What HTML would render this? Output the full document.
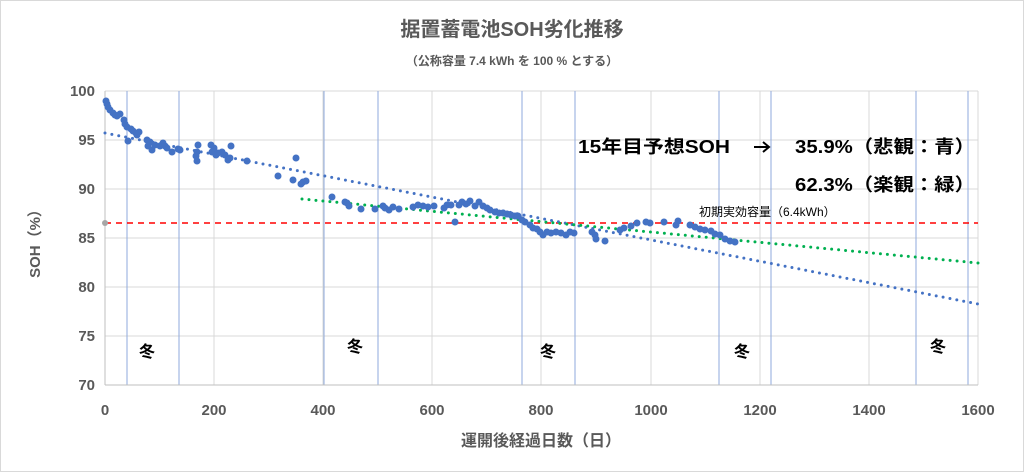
<!DOCTYPE html>
<html><head><meta charset="utf-8"><style>
body{margin:0;background:#fff}
svg{display:block;font-family:"Liberation Sans","Noto Sans CJK JP",sans-serif}
</style></head><body>
<svg width="1024" height="472" viewBox="0 0 1024 472">
<rect x="0.5" y="0.5" width="1023" height="471" fill="#fff" stroke="#d9d9d9"/>
<g stroke="#d9d9d9" stroke-width="1">
<line x1="105" y1="91" x2="978" y2="91"/><line x1="105" y1="140" x2="978" y2="140"/>
<line x1="105" y1="189" x2="978" y2="189"/><line x1="105" y1="238" x2="978" y2="238"/>
<line x1="105" y1="287" x2="978" y2="287"/><line x1="105" y1="336" x2="978" y2="336"/>
<line x1="214" y1="91" x2="214" y2="385"/><line x1="323" y1="91" x2="323" y2="385"/>
<line x1="432" y1="91" x2="432" y2="385"/><line x1="541" y1="91" x2="541" y2="385"/>
<line x1="651" y1="91" x2="651" y2="385"/><line x1="760" y1="91" x2="760" y2="385"/>
<line x1="869" y1="91" x2="869" y2="385"/><line x1="978" y1="91" x2="978" y2="385"/>
</g>
<g stroke="#8faadc" stroke-width="1">
<line x1="127" y1="91" x2="127" y2="385"/><line x1="179" y1="91" x2="179" y2="385"/>
<line x1="324" y1="91" x2="324" y2="385"/><line x1="378" y1="91" x2="378" y2="385"/>
<line x1="522" y1="91" x2="522" y2="385"/><line x1="575" y1="91" x2="575" y2="385"/>
<line x1="719" y1="91" x2="719" y2="385"/><line x1="771" y1="91" x2="771" y2="385"/>
<line x1="916" y1="91" x2="916" y2="385"/><line x1="968" y1="91" x2="968" y2="385"/>
</g>
<line x1="105" y1="91" x2="105" y2="385" stroke="#bfbfbf"/>
<line x1="105" y1="385" x2="978" y2="385" stroke="#bfbfbf"/>
<line x1="105" y1="223" x2="978" y2="223" stroke="#ff0000" stroke-width="1.5" stroke-dasharray="6,5"/>
<circle cx="105" cy="223" r="3" fill="#a6a6a6"/>
<line x1="105" y1="133" x2="978" y2="304" stroke="#4472c4" stroke-width="3" stroke-dasharray="0,7" stroke-linecap="round"/>
<line x1="302" y1="199" x2="978" y2="263" stroke="#00b050" stroke-width="3" stroke-dasharray="0,7" stroke-linecap="round"/>
<g fill="#4472c4">
<circle cx="106" cy="101" r="3.5"/><circle cx="107" cy="104" r="3.5"/><circle cx="108" cy="107" r="3.5"/><circle cx="110" cy="110" r="3.5"/><circle cx="113" cy="113" r="3.5"/><circle cx="115" cy="115" r="3.5"/><circle cx="117" cy="116" r="3.5"/><circle cx="120" cy="114" r="3.5"/><circle cx="124" cy="120" r="3.5"/><circle cx="125" cy="124" r="3.5"/><circle cx="127" cy="127" r="3.5"/><circle cx="131" cy="129" r="3.5"/><circle cx="133" cy="131" r="3.5"/><circle cx="136" cy="133" r="3.5"/><circle cx="139" cy="132" r="3.5"/><circle cx="137" cy="135" r="3.5"/><circle cx="128" cy="141" r="3.5"/><circle cx="147" cy="140" r="3.5"/><circle cx="148" cy="146" r="3.5"/><circle cx="152" cy="150" r="3.5"/><circle cx="150" cy="142" r="3.5"/><circle cx="155" cy="145" r="3.5"/><circle cx="160" cy="146" r="3.5"/><circle cx="163" cy="143" r="3.5"/><circle cx="165" cy="146" r="3.5"/><circle cx="167" cy="148" r="3.5"/><circle cx="172" cy="152" r="3.5"/><circle cx="178" cy="149" r="3.5"/><circle cx="180" cy="150" r="3.5"/><circle cx="197" cy="152" r="3.5"/><circle cx="196" cy="156" r="3.5"/><circle cx="197" cy="161" r="3.5"/><circle cx="198" cy="145" r="3.5"/><circle cx="211" cy="145" r="3.5"/><circle cx="212" cy="152" r="3.5"/><circle cx="214" cy="148" r="3.5"/><circle cx="216" cy="155" r="3.5"/><circle cx="218" cy="153" r="3.5"/><circle cx="222" cy="152" r="3.5"/><circle cx="225" cy="155" r="3.5"/><circle cx="228" cy="160" r="3.5"/><circle cx="231" cy="146" r="3.5"/><circle cx="230" cy="158" r="3.5"/><circle cx="247" cy="161" r="3.5"/><circle cx="278" cy="176" r="3.5"/><circle cx="293" cy="180" r="3.5"/><circle cx="296" cy="158" r="3.5"/><circle cx="301" cy="184" r="3.5"/><circle cx="303" cy="182" r="3.5"/><circle cx="306" cy="181" r="3.5"/><circle cx="332" cy="197" r="3.5"/><circle cx="345" cy="202" r="3.5"/><circle cx="347" cy="203" r="3.5"/><circle cx="349" cy="206" r="3.5"/><circle cx="361" cy="209" r="3.5"/><circle cx="375" cy="209" r="3.5"/><circle cx="383" cy="206" r="3.5"/><circle cx="385" cy="208" r="3.5"/><circle cx="389" cy="210" r="3.5"/><circle cx="393" cy="207" r="3.5"/><circle cx="399" cy="209" r="3.5"/><circle cx="413" cy="207" r="3.5"/><circle cx="418" cy="205" r="3.5"/><circle cx="423" cy="206" r="3.5"/><circle cx="428" cy="207" r="3.5"/><circle cx="434" cy="206" r="3.5"/><circle cx="444" cy="208" r="3.5"/><circle cx="447" cy="205" r="3.5"/><circle cx="451" cy="205" r="3.5"/><circle cx="455" cy="222" r="3.5"/><circle cx="459" cy="205" r="3.5"/><circle cx="462" cy="202" r="3.5"/><circle cx="466" cy="204" r="3.5"/><circle cx="470" cy="201" r="3.5"/><circle cx="475" cy="206" r="3.5"/><circle cx="479" cy="202" r="3.5"/><circle cx="483" cy="206" r="3.5"/><circle cx="487" cy="208" r="3.5"/><circle cx="490" cy="210" r="3.5"/><circle cx="495" cy="212" r="3.5"/><circle cx="499" cy="213" r="3.5"/><circle cx="503" cy="213" r="3.5"/><circle cx="507" cy="214" r="3.5"/><circle cx="511" cy="215" r="3.5"/><circle cx="515" cy="216" r="3.5"/><circle cx="518" cy="216" r="3.5"/><circle cx="522" cy="220" r="3.5"/><circle cx="525" cy="222" r="3.5"/><circle cx="530" cy="225" r="3.5"/><circle cx="533" cy="228" r="3.5"/><circle cx="537" cy="229" r="3.5"/><circle cx="540" cy="232" r="3.5"/><circle cx="543" cy="235" r="3.5"/><circle cx="547" cy="232" r="3.5"/><circle cx="551" cy="233" r="3.5"/><circle cx="556" cy="232" r="3.5"/><circle cx="561" cy="233" r="3.5"/><circle cx="566" cy="235" r="3.5"/><circle cx="570" cy="232" r="3.5"/><circle cx="574" cy="233" r="3.5"/><circle cx="592" cy="232" r="3.5"/><circle cx="595" cy="235" r="3.5"/><circle cx="596" cy="239" r="3.5"/><circle cx="605" cy="241" r="3.5"/><circle cx="620" cy="230" r="3.5"/><circle cx="624" cy="228" r="3.5"/><circle cx="631" cy="226" r="3.5"/><circle cx="637" cy="223" r="3.5"/><circle cx="646" cy="222" r="3.5"/><circle cx="650" cy="223" r="3.5"/><circle cx="664" cy="222" r="3.5"/><circle cx="676" cy="225" r="3.5"/><circle cx="678" cy="221" r="3.5"/><circle cx="690" cy="225" r="3.5"/><circle cx="695" cy="227" r="3.5"/><circle cx="700" cy="229" r="3.5"/><circle cx="705" cy="230" r="3.5"/><circle cx="711" cy="231" r="3.5"/><circle cx="715" cy="234" r="3.5"/><circle cx="720" cy="235" r="3.5"/><circle cx="725" cy="239" r="3.5"/><circle cx="730" cy="241" r="3.5"/><circle cx="735" cy="242" r="3.5"/>
</g>
<g fill="#595959" font-weight="bold" font-size="15" text-anchor="end">
<text x="95" y="96">100</text><text x="95" y="145">95</text><text x="95" y="194">90</text><text x="95" y="243">85</text><text x="95" y="292">80</text><text x="95" y="341">75</text><text x="95" y="390">70</text>
</g>
<g fill="#595959" font-weight="bold" font-size="15" text-anchor="middle">
<text x="105" y="415">0</text><text x="214" y="415">200</text><text x="323" y="415">400</text><text x="432" y="415">600</text><text x="541" y="415">800</text><text x="651" y="415">1000</text><text x="760" y="415">1200</text><text x="869" y="415">1400</text><text x="978" y="415">1600</text>
<text x="541" y="446" font-size="16">運開後経過日数（日）</text>
<text x="512" y="36" font-size="20">据置蓄電池SOH劣化推移</text>
<text x="512" y="65" font-size="12">（公称容量 7.4 kWh を 100 % とする）</text>
</g>
<text transform="translate(40,240) rotate(-90)" fill="#595959" font-weight="bold" font-size="15" text-anchor="middle">SOH（%）</text>
<g font-size="16" font-weight="bold" fill="#000" text-anchor="middle">
<text x="147" y="357">冬</text><text x="355" y="352">冬</text><text x="548" y="357">冬</text><text x="742" y="357">冬</text><text x="938" y="352">冬</text>
</g>
<g font-weight="bold" font-size="18" fill="#000">
<text x="578" y="153" textLength="152" lengthAdjust="spacingAndGlyphs">15年目予想SOH</text>
<text x="795" y="153" textLength="180" lengthAdjust="spacingAndGlyphs">35.9%（悲観：青）</text>
<text x="795" y="191" textLength="180" lengthAdjust="spacingAndGlyphs">62.3%（楽観：緑）</text>
</g>
<line x1="754" y1="147" x2="769" y2="147" stroke="#000" stroke-width="2"/>
<path d="M763 142 L769 147 L763 152" fill="none" stroke="#000" stroke-width="2"/>
<text x="699" y="216" font-size="12" fill="#000">初期実効容量（6.4kWh）</text>
</svg>
</body></html>
